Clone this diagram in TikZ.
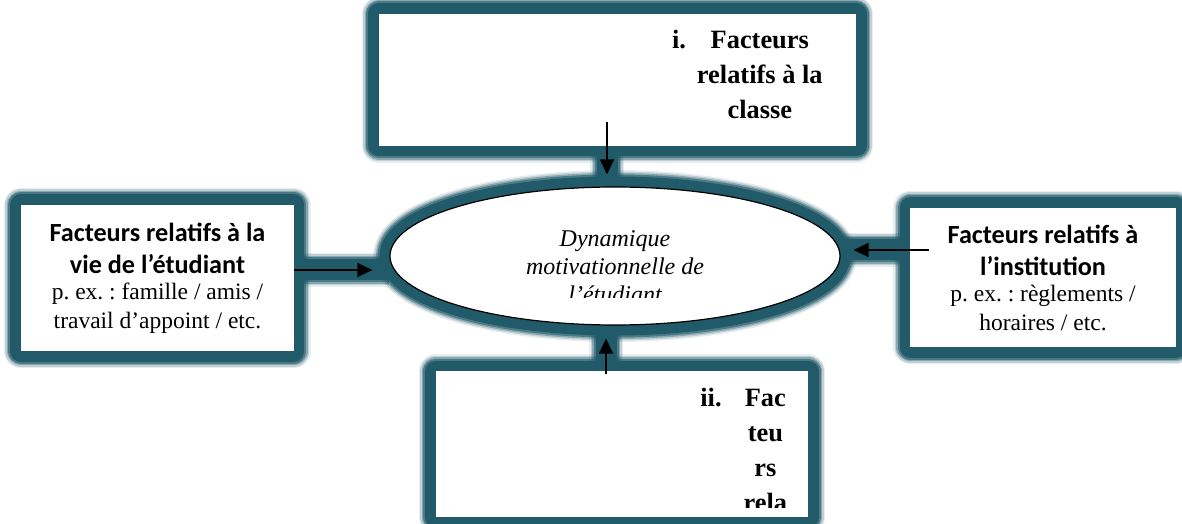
\documentclass[tikz,border=0pt]{standalone}
\usepackage{fontspec}
\setmainfont{Liberation Serif}
\newfontfamily\calibri{Carlito}
\usetikzlibrary{positioning,arrows.meta,shapes.geometric}

\definecolor{glowc}{RGB}{33,90,105}
\pgfdeclarelayer{back}
\pgfsetlayers{back,main}

\newcommand{\titre}{\calibri\bfseries\fontsize{13.1}{16.5}\selectfont}

\tikzset{
  halopart/.style n args={2}{draw=glowc,draw opacity=#1,line width=#2,line join=round},
  glow/.style={preaction={halopart={.1}{17pt}},
               preaction={halopart={.2}{15.5pt}},
               preaction={halopart={.35}{14pt}},
               preaction={halopart={.6}{12.5pt}},
               preaction={halopart={1}{10.5pt}}},
  boite/.style={glow,fill=white,inner sep=0pt},
  fleche/.style={->,line width=.75pt},
  texte/.style={shape=rectangle,minimum width=0pt,minimum height=0pt,inner sep=0pt},
  liste/.style={texte,anchor=base east,font=\bfseries\fontsize{13.2}{17.5}\selectfont},
  exemple/.style={align=center,font=\fontsize{11.75}{14.5}\selectfont}
}

\begin{document}
\frenchspacing
\begin{tikzpicture}[>={Triangle[length=7.5pt,width=7pt]}]
            \useasboundingbox (-307.5pt,-134pt) rectangle (283.5pt,128pt);

            \node[boite,ellipse,draw=black,line width=.6pt,minimum width=225pt,minimum height=69pt,
                  path picture={
                    \clip (path picture bounding box.north west) rectangle ([yshift=13.5pt]path picture bounding box.south east);
                    \node[texte,align=center,font=\itshape\fontsize{12}{14}\selectfont] (dyntxt)
                      at ([yshift=-5.5pt]path picture bounding box.center) {Dynamique\\motivationnelle de\\l’étudiant};
                  }] (dyn) at (0,0) {};

            \node[boite,minimum width=238.5pt,minimum height=66pt,above=20pt of dyn,xshift=1.25pt,
                  path picture={
                    \node[liste] (classetxt) at ([xshift=-16.5pt,yshift=-17.5pt]path picture bounding box.north east)
                      {\begin{tabular}[t]{@{}l@{\hspace{5.5pt}}c@{}} i. & Facteurs\\ & relatifs à la\\ & classe\end{tabular}};
                  }] (classe) {};

            \node[boite,minimum width=186pt,minimum height=73pt,below=22.5pt of dyn,xshift=3.5pt,
                  path picture={
                    \clip (path picture bounding box.north west) rectangle ([yshift=5pt]path picture bounding box.south east);
                    \node[liste] (etutxt) at ([xshift=-10.25pt,yshift=-17.5pt]path picture bounding box.north east)
                      {\begin{tabular}[t]{@{}l@{\hspace{11pt}}c@{}} ii. & Fac\\ & teu\\ & rs\\ & rela\end{tabular}};
                  }] (etu) {};

            \node[boite,exemple,minimum width=136.5pt,minimum height=73pt,left=47.5pt of dyn,yshift=-11pt] (vie)
                  {{\titre Facteurs relatifs à la}\\[1.5pt]{\titre vie de l’étudiant}\\[-1.5pt]p. ex. : famille / amis /\\travail d’appoint / etc.};
            \node[boite,exemple,minimum width=133pt,minimum height=69.5pt,right=34.5pt of dyn,yshift=-10.75pt] (inst)
                  {{\titre Facteurs relatifs à}\\[1.5pt]{\titre l’institution}\\[-1.5pt]p. ex. : règlements /\\horaires / etc.};

            % bandes sous les fleches
            \begin{pgfonlayer}{back}
              \path[glow] ([xshift=-5.25pt]classe.center) -- ([xshift=-5.25pt]classe.center |- dyn.north);
              \path[glow] ([yshift=4pt]vie.center) -- ([yshift=4pt]vie.center -| dyn.west);
              \path[glow] ([yshift=13.75pt]inst.center) -- ([yshift=13.75pt]inst.center -| dyn.east);
              \path[glow] ([xshift=-8pt]etu.center) -- ([xshift=-8pt]etu.center |- dyn.south);
            \end{pgfonlayer}

            \draw[fleche,shorten <=-12pt,shorten >=6pt] ([xshift=-5.25pt]classe.south) -- ([xshift=-5.25pt]classe.south |- dyn.north);
            \draw[fleche,shorten >=8.5pt] ([yshift=4pt]vie.east) -- ([yshift=4pt]vie.east -| dyn.west);
            \draw[fleche,shorten <=-9.5pt,shorten >=6.5pt] ([yshift=13.75pt]inst.west) -- ([yshift=13.75pt]inst.west -| dyn.east);
            \draw[fleche,shorten <=-1.5pt,shorten >=6.5pt] ([xshift=-8pt]etu.north) -- ([xshift=-8pt]etu.north |- dyn.south);
        \end{tikzpicture}
\end{document}
